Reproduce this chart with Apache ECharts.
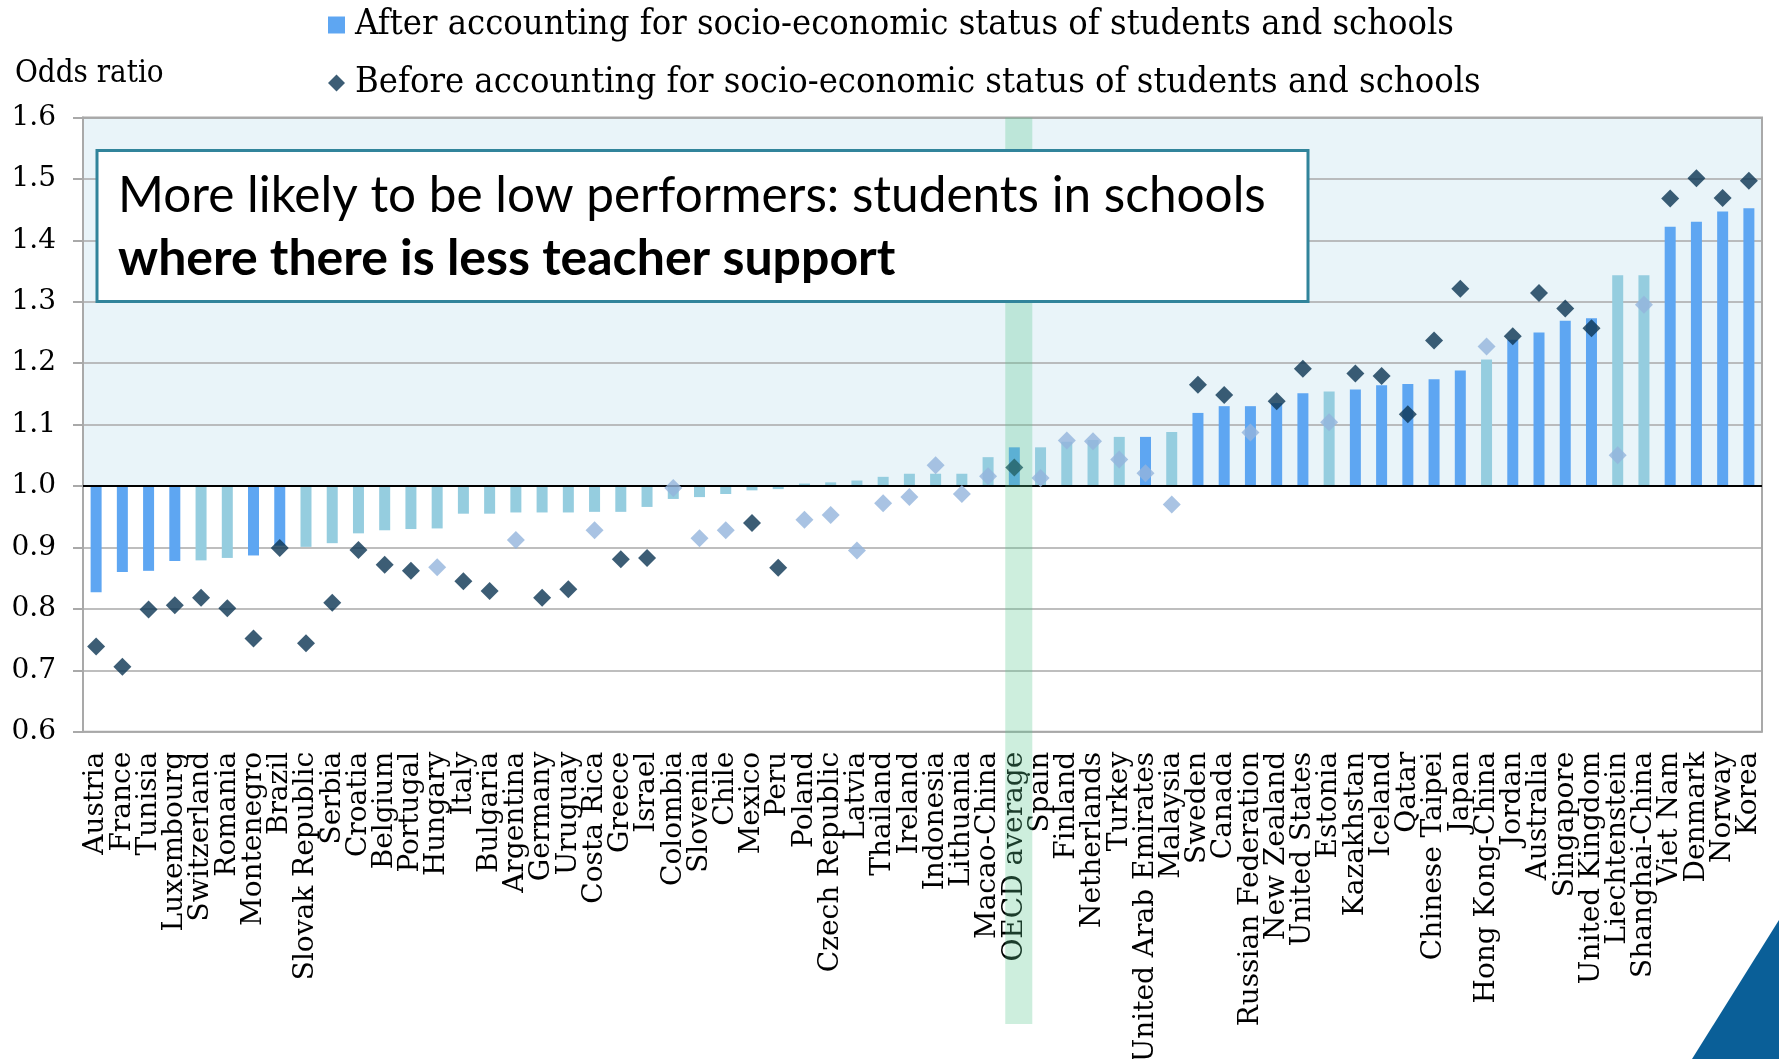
<!DOCTYPE html>
<html>
<head>
<meta charset="utf-8">
<script src="https://cdn.jsdelivr.net/npm/echarts@6/dist/echarts.min.js"></script>
<style>
  html, body { margin: 0; padding: 0; background: #ffffff; }
  #chart { width: 1779px; height: 1059px; }
</style>
</head>
<body>
<div id="chart"></div>
<script>
// ---------------- data ----------------
const countries = ["Austria","France","Tunisia","Luxembourg","Switzerland","Romania","Montenegro","Brazil","Slovak Republic","Serbia",
  "Croatia","Belgium","Portugal","Hungary","Italy","Bulgaria","Argentina","Germany","Uruguay","Costa Rica",
  "Greece","Israel","Colombia","Slovenia","Chile","Mexico","Peru","Poland","Czech Republic","Latvia",
  "Thailand","Ireland","Indonesia","Lithuania","Macao-China","OECD average","Spain","Finland","Netherlands","Turkey",
  "United Arab Emirates","Malaysia","Sweden","Canada","Russian Federation","New Zealand","United States","Estonia","Kazakhstan","Iceland",
  "Qatar","Chinese Taipei","Japan","Hong Kong-China","Jordan","Australia","Singapore","United Kingdom","Liechtenstein","Shanghai-China",
  "Viet Nam","Denmark","Norway","Korea"];

// odds ratio after accounting for socio-economic status (bars)
const afterAccounting = [0.827,0.860,0.862,0.878,0.879,0.883,0.887,0.903,0.901,0.907,
  0.923,0.928,0.930,0.931,0.955,0.955,0.957,0.957,0.957,0.958,
  0.958,0.966,0.979,0.982,0.987,0.993,0.995,1.004,1.006,1.009,
  1.015,1.020,1.020,1.020,1.047,1.063,1.063,1.072,1.075,1.080,
  1.080,1.088,1.119,1.130,1.130,1.135,1.151,1.154,1.157,1.164,
  1.166,1.174,1.188,1.206,1.238,1.250,1.269,1.273,1.343,1.343,
  1.422,1.430,1.447,1.452];

// odds ratio before accounting for socio-economic status (diamonds)
const beforeAccounting = [0.739,0.706,0.799,0.806,0.818,0.801,0.752,0.899,0.744,0.810,
  0.896,0.872,0.862,0.868,0.845,0.829,0.912,0.818,0.832,0.928,
  0.881,0.883,0.997,0.915,0.928,0.940,0.867,0.945,0.953,0.895,
  0.972,0.982,1.034,0.987,1.016,1.030,1.013,1.074,1.073,1.043,
  1.021,0.970,1.165,1.148,1.087,1.138,1.191,1.104,1.183,1.179,
  1.117,1.237,1.321,1.227,1.244,1.314,1.289,1.257,1.050,1.295,
  1.468,1.501,1.469,1.497];

// 1 = statistically significant (dark), 0 = not significant (light)
const afterSignificant = [1,1,1,1,0,0,1,1,0,0, 0,0,0,0,0,0,0,0,0,0, 0,0,0,0,0,0,0,0,0,0,
  0,0,0,0,0,1,0,0,0,0, 1,0,1,1,1,1,1,0,1,1, 1,1,1,0,1,1,1,1,0,0, 1,1,1,1];
const beforeSignificant = [1,1,1,1,1,1,1,1,1,1, 1,1,1,0,1,1,0,1,1,0, 1,1,0,0,0,1,1,0,0,0,
  0,0,0,0,0,1,0,0,0,0, 0,0,1,1,0,1,1,0,1,1, 1,1,1,0,1,1,1,1,0,0, 1,1,1,1];

const yTicks = [0.6, 0.7, 0.8, 0.9, 1.0, 1.1, 1.2, 1.3, 1.4, 1.5, 1.6];
const seriesNames = ["After accounting for socio-economic status of students and schools",
                     "Before accounting for socio-economic status of students and schools"];
const highlightCategory = "OECD average";
const annotationLine1 = "More likely to be low performers: students in schools";
const annotationLine2 = "where there is less teacher support";

// ---------------- styling ----------------
const BASE = 1.0;   // odds ratio baseline: bars grow from 1.0
const BAR_SIG = '#5ea6f2', BAR_NS = '#95cddf';
const DIA_SIG = '#0b3553', DIA_NS = '#94b4dc';
const GRID_GRAY = '#a9a9a9';
const SERIF = 'DejaVu Serif';
const SERIF_COND = "'DejaVu Serif Condensed', 'DejaVu Serif'";

const barData = afterAccounting.map((v, i) => ({
  value: +(v - BASE).toFixed(4),
  itemStyle: { color: afterSignificant[i] ? BAR_SIG : BAR_NS }
}));
const diaData = beforeAccounting.map((v, i) => ({
  value: +(v - BASE).toFixed(4),
  itemStyle: { color: beforeSignificant[i] ? DIA_SIG : DIA_NS }
}));

const chart = echarts.init(document.getElementById('chart'), null, { renderer: 'canvas' });

const option = {
  animation: false,
  backgroundColor: '#ffffff',
  title: {
    text: 'Odds ratio',
    left: 10, top: 53,
    textStyle: { fontFamily: SERIF_COND, fontSize: 31, fontWeight: 'normal', color: '#000' }
  },
  legend: {
    orient: 'vertical',
    left: 323, top: 0,
    itemWidth: 17, itemHeight: 17,
    itemGap: 18,
    selectedMode: false,
    data: [{ name: seriesNames[0], icon: 'rect' }, { name: seriesNames[1], icon: 'diamond' }],
    textStyle: { fontFamily: SERIF_COND, fontSize: 36, color: '#000', lineHeight: 40, padding: [0, 0, 0, 5] }
  },
  grid: {
    left: 83, right: 17, top: 117.4, bottom: 327.2,
    outerBoundsMode: 'none',
    containLabel: false,
    show: true, borderColor: GRID_GRAY, borderWidth: 2, z: 2
  },
  xAxis: {
    type: 'category',
    data: countries,
    z: 2,
    axisLine: { show: false },
    axisTick: { show: false },
    splitLine: { show: false },
    axisLabel: {
      interval: 0, rotate: 90, margin: 20, hideOverlap: false,
      fontFamily: SERIF, fontSize: 28, color: '#000'
    }
  },
  yAxis: {
    type: 'value',
    min: yTicks[0] - BASE,
    max: yTicks[yTicks.length - 1] - BASE,
    interval: 0.1,
    z: 2,
    axisLine: { show: true, lineStyle: { color: GRID_GRAY, width: 2 } },
    axisTick: { show: true, length: 10, lineStyle: { color: GRID_GRAY, width: 2 } },
    splitLine: { show: true, lineStyle: { color: GRID_GRAY, width: 1.6 } },
    axisLabel: {
      margin: 27,
      fontFamily: SERIF, fontSize: 28, color: '#000',
      formatter: v => (v + BASE).toFixed(1)
    }
  },
  series: [
    {
      name: seriesNames[0],
      type: 'bar',
      data: barData,
      barWidth: 11,
      z: 3,
      itemStyle: { color: BAR_SIG },
      markArea: {
        silent: true,
        z: 1,
        itemStyle: { color: '#e9f4f9' },
        data: [[{ yAxis: 0 }, { yAxis: yTicks[yTicks.length - 1] - BASE }]]
      },
      markLine: {
        silent: true,
        symbol: 'none',
        z: 5,
        label: { show: false },
        lineStyle: { color: '#000', width: 2, type: 'solid' },
        data: [{ yAxis: 0 }]
      }
    },
    {
      name: seriesNames[1],
      type: 'scatter',
      data: diaData,
      symbol: 'diamond',
      symbolSize: 18,
      z: 6,
      itemStyle: { color: DIA_SIG }
    }
  ]
};
chart.setOption(option);

// ---------- overlays: annotation box, OECD highlight band, corner triangle ----------
const idx = countries.indexOf(highlightCategory);
const p0 = chart.convertToPixel({ xAxisIndex: 0, yAxisIndex: 0 }, [idx, yTicks[yTicks.length - 1] - BASE]);
const p1 = chart.convertToPixel({ xAxisIndex: 0, yAxisIndex: 0 }, [idx + 1, yTicks[yTicks.length - 1] - BASE]);
const catW = p1[0] - p0[0];
const bandW = catW * 1.03;
const bandCx = p0[0] + catW * 0.17;

chart.setOption({
  graphic: [
    {
      type: 'rect', z: 100, silent: true,
      shape: { x: bandCx - bandW / 2, y: p0[1], width: bandW, height: 1024 - p0[1] },
      style: { fill: 'rgba(88,198,142,0.3)' }
    },
    {
      type: 'rect', z: 150,
      shape: { x: 97, y: 150.5, width: 1211, height: 151 },
      style: { fill: '#ffffff', stroke: '#31849b', lineWidth: 3 }
    },
    {
      type: 'text', z: 151, x: 118, y: 196,
      style: { text: annotationLine1, font: '49.5px Lato', fill: '#000', verticalAlign: 'middle', align: 'left' }
    },
    {
      type: 'text', z: 151, x: 118, y: 259,
      style: { text: annotationLine2, font: 'bold 50px Lato', fill: '#000', verticalAlign: 'middle', align: 'left' }
    },
    {
      type: 'polygon', z: 100, silent: true,
      shape: { points: [[1779, 920], [1692, 1059], [1779, 1059]] },
      style: { fill: '#0a5f98' }
    }
  ]
});
</script>
</body>
</html>
